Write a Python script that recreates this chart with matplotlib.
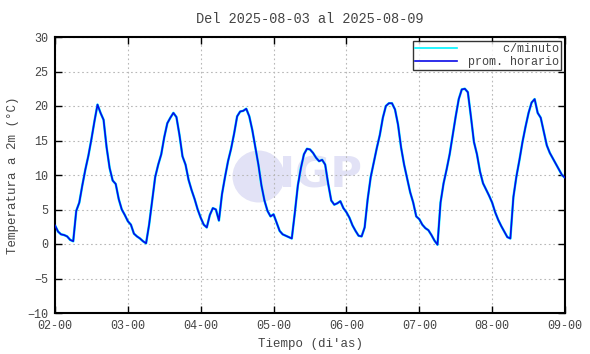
import matplotlib
matplotlib.use("Agg")
import matplotlib.pyplot as plt
import numpy as np
from matplotlib.patches import Arc

# ---- data (hourly averages, day-of-month fractional) ----
day_labels = ["02-00", "03-00", "04-00", "05-00", "06-00", "07-00", "08-00", "09-00"]
day_ticks = [2, 3, 4, 5, 6, 7, 8, 9]

temp_d02 = [2.7, 1.8, 1.4, 1.3, 1.1, 0.6, 0.4, 4.8, 6.0, 8.5, 10.8, 12.8,
            15.2, 17.8, 20.2, 19.0, 18.0, 14.0, 11.0, 9.2, 8.7, 6.5, 5.0, 4.2]
temp_d03 = [3.3, 2.8, 1.5, 1.1, 0.8, 0.4, 0.1, 2.8, 6.3, 9.7, 11.5, 13.0,
            15.5, 17.5, 18.3, 19.0, 18.4, 15.8, 12.7, 11.5, 9.3, 7.8, 6.5, 5.0]
temp_d04 = [3.8, 2.8, 2.4, 4.2, 5.2, 5.0, 3.4, 7.2, 9.7, 12.0, 13.8, 16.0,
            18.5, 19.2, 19.3, 19.6, 18.5, 16.5, 14.0, 11.5, 8.5, 6.3, 4.8, 4.0]
temp_d05 = [4.3, 3.1, 1.9, 1.4, 1.2, 1.0, 0.8, 4.5, 8.5, 11.0, 13.0, 13.8,
            13.7, 13.2, 12.5, 12.0, 12.2, 11.5, 8.7, 6.3, 5.7, 5.9, 6.2, 5.2]
temp_d06 = [4.6, 3.8, 2.7, 1.9, 1.2, 1.1, 2.4, 6.5, 9.7, 11.8, 13.9, 15.8,
            18.3, 20.0, 20.4, 20.4, 19.5, 17.3, 14.0, 11.5, 9.5, 7.5, 6.0, 4.0]
temp_d07 = [3.6, 2.8, 2.3, 2.0, 1.3, 0.5, -0.1, 6.0, 8.8, 10.8, 13.0, 15.8,
            18.5, 21.0, 22.4, 22.5, 22.0, 18.5, 14.8, 13.0, 10.5, 8.8, 7.9, 7.0]
temp_d08 = [6.0, 4.6, 3.5, 2.6, 1.8, 1.0, 0.8, 6.8, 9.8, 12.2, 14.8, 17.0,
            19.0, 20.5, 21.0, 19.0, 18.3, 16.3, 14.3, 13.2, 12.4, 11.6, 10.8, 10.0]
temp_end = [9.6]

hourly = np.array(temp_d02 + temp_d03 + temp_d04 + temp_d05 + temp_d06 +
                  temp_d07 + temp_d08 + temp_end)
t = 2 + np.arange(len(hourly)) / 24.0

# ---- figure ----
plt.rcParams['font.family'] = ['Liberation Mono', 'DejaVu Sans Mono']
fig = plt.figure(figsize=(5.9, 3.54), dpi=100)
ax = fig.add_axes([55/590, 41/354, 510/590, 276/354])

# watermark (IGP logo)
wm = '#e2e2f6'
ax.scatter([4.79], [9.9], s=1400, color=wm, zorder=0, linewidths=0)
ax.text(5.64, 9.9, "IGP", fontsize=31, fontweight='bold', color=wm,
        ha='center', va='center', zorder=0, family='DejaVu Sans')

ax.plot(t, hourly, color='#00f4ff', lw=1.8, label='     c/minuto', zorder=2)
ax.plot(t, hourly, color='#0a0ae6', lw=1.2, label='prom. horario', zorder=3)

ax.set_xlim(2, 9)
ax.set_ylim(-10, 30)
ax.set_xticks(day_ticks)
ax.set_xticklabels(day_labels)
ax.set_yticks(np.arange(-10, 31, 5))
ax.tick_params(direction='in', length=5, width=1, top=True, right=True,
               labelsize=8.5, colors='black', labelcolor='#444444', pad=5)
ax.grid(True, color='#b8b8b8', linestyle=(0, (1.5, 2.5)), linewidth=0.8)
for s in ax.spines.values():
    s.set_linewidth(1.5)
    s.set_color('black')

ax.set_title("Del 2025-08-03 al 2025-08-09", fontsize=9.8, color='#444444', pad=10)
ax.set_xlabel("Tiempo (di'as)", fontsize=9, color='#444444', labelpad=4)
ax.set_ylabel("Temperatura a 2m (°C)", fontsize=9, color='#444444', labelpad=6)

leg = ax.legend(loc='upper right', fontsize=8.5, frameon=True, fancybox=False,
                borderpad=0.2, handlelength=3.6, handletextpad=0.9,
                labelspacing=0.1, borderaxespad=0.3)
leg.get_frame().set_edgecolor('black')
leg.get_frame().set_linewidth(1.0)
for line in leg.get_lines():
    line.set_linewidth(1.2)
for txt in leg.get_texts():
    txt.set_color('#444444')

fig.savefig("out.png", dpi=100)
